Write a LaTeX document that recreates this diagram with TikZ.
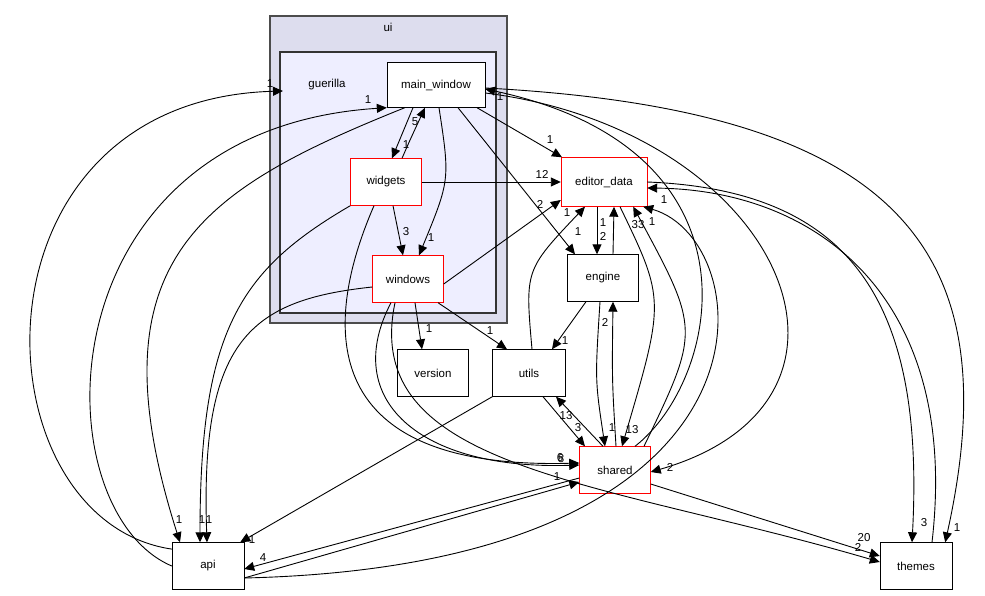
\documentclass[tikz,border=0pt]{standalone}
\usepackage{fontspec}
\setmainfont{Liberation Sans}
\usetikzlibrary{arrows.meta}

\tikzset{
  dir/.style={draw=black, fill=white, minimum width=#1, minimum height=47, inner sep=0pt, font=\fontsize{11.5}{13}\selectfont},
  reddir/.style={dir=#1, draw=red},
  dep/.style={-{Triangle[length=10pt,width=9pt]}, line width=0.9pt},
  lbl/.style={font=\fontsize{11.5}{13}\selectfont, inner sep=0pt}
}

\begin{document}
\begin{tikzpicture}[x=1pt, y=-1pt]
  \useasboundingbox (0,0) rectangle (985,596);

  % clusters
  \filldraw[fill={rgb,255:red,221;green,221;blue,238}, draw=black!70, line width=1.2pt] (270,16) rectangle (507,323);
  \node[lbl] (uilbl) at (388,27) {ui};
  \filldraw[fill={rgb,255:red,238;green,238;blue,255}, draw=black!80, line width=1.2pt] (280,52) rectangle (496,313);
  \node[lbl] (guerilla) at (327,85) {guerilla};
  \coordinate (g) at (283,91);

  % directories
  \node[dir=98, minimum height=45] (main_window) at (436,85) {main\_window};
  \node[reddir=71] (widgets) at (386,182) {widgets};
  \node[reddir=71] (windows) at (408,279) {windows};
  \node[reddir=86, minimum height=49] (editor_data) at (604,182) {editor\_data};
  \node[dir=71] (engine) at (603,278) {engine};
  \node[dir=71] (version) at (433,373) {version};
  \node[dir=73] (utils) at (529,373) {utils};
  \node[reddir=71] (shared) at (615,470) {shared};
  \node[dir=72] (api) at (208,566) {api};
  \node[dir=72] (themes) at (916,566) {themes};

  % dependencies from api
  \draw[dep] (api.155) .. controls (-25,520) and (-40,100) .. (g) node[lbl] at (270,84) {1};
  \draw[dep] (api.west) .. controls (40,510) and (40,130) .. (main_window.south west) node[lbl] at (368,100) {1};
  \draw[dep] ([yshift=-12]api.east) .. controls (800,565) and (760,240) .. ([xshift=-4]editor_data.south east) node[lbl] at (652,222) {1};
  \draw[dep] ([yshift=-12]api.east) -- ([yshift=-12]shared.west) node[lbl] at (557,477) {1};

  % main_window
  \draw[dep] ([xshift=18]main_window.south west) .. controls (200,190) and (90,260) .. ([xshift=-28]api.north) node[lbl] at (179,520) {1};
  \draw[dep] ([xshift=-23]main_window.south) -- ([xshift=6]widgets.north) node[lbl] at (406,145) {1};
  \draw[dep] ([xshift=16]widgets.north) .. controls (410,140) .. ([xshift=-11]main_window.south) node[lbl] at (415,122) {5};
  \draw[dep] ([xshift=3]main_window.south) .. controls (450,180) .. ([xshift=11]windows.north) node[lbl] at (431,238) {1};
  \draw[dep] ([xshift=41]main_window.south) -- ([xshift=-42]editor_data.north) node[lbl] at (550,140) {1};
  \draw[dep] ([xshift=22]main_window.south) -- ([xshift=-28]engine.north) node[lbl] at (578,232) {1};
  \draw[dep] ([yshift=-3]main_window.east) .. controls (900,110) and (1010,250) .. ([xshift=-7]themes.north east) node[lbl] at (957,528) {1};
  \draw[dep] ([yshift=-8]main_window.east) .. controls (780,130) and (900,400) .. ([yshift=-2]shared.east) node[lbl] at (670,467) {2};
  \draw[dep] ([xshift=20]shared.north) .. controls (720,380) and (770,150) .. ([yshift=-4]main_window.east) node[lbl] at (500,97) {1};

  % widgets
  \draw[dep] (widgets.east) -- (editor_data.west) node[lbl] at (542,174) {12};
  \draw[dep] ([xshift=7]widgets.south) -- ([xshift=-5]windows.north) node[lbl] at (406,232) {3};
  \draw[dep] (widgets.south west) .. controls (240,270) and (200,330) .. ([xshift=-8]api.north) node[lbl] at (202,520) {1};
  \draw[dep] ([xshift=-12]widgets.south) .. controls (320,330) and (320,470) .. ([yshift=7]shared.west) node[lbl] at (560,458) {6};

  % windows
  \draw[dep] ([yshift=-5]windows.east) -- ([yshift=-18]editor_data.west) node[lbl] at (540,204) {2};
  \draw[dep] ([yshift=-8]windows.west) .. controls (250,300) and (200,340) .. ([xshift=-1]api.north) node[lbl] at (209,520) {1};
  \draw[dep] ([xshift=7]windows.south) -- ([xshift=-11]version.north) node[lbl] at (429,329) {1};
  \draw[dep] ([xshift=30]windows.south) -- ([xshift=-22]utils.north) node[lbl] at (490,331) {1};
  \draw[dep] ([xshift=-17]windows.south) .. controls (340,400) and (420,470) .. ([yshift=5]shared.west) node[lbl] at (561,459) {8};
  \draw[dep] ([xshift=-13]windows.south) .. controls (360,470) and (600,480) .. ([yshift=4]themes.west) node[lbl] at (858,547) {2};

  % editor_data and engine
  \draw[dep] ([xshift=-7]editor_data.south) -- ([xshift=-6]engine.north) node[lbl] at (603,236) {2};
  \draw[dep] ([xshift=10]engine.north) -- ([xshift=10]editor_data.south) node[lbl] at (603,223) {1};
  \draw[dep] ([xshift=16]editor_data.south) .. controls (665,300) .. ([xshift=7]shared.north) node[lbl] at (632,430) {13};
  \draw[dep] ([xshift=29]shared.north) .. controls (700,330) .. ([xshift=-14]editor_data.south east) node[lbl] at (638,225) {33};
  \draw[dep] (editor_data.east) .. controls (850,190) and (925,300) .. ([xshift=-4]themes.north) node[lbl] at (924,523) {3};
  \draw[dep] ([xshift=16]themes.north) .. controls (960,300) and (820,190) .. ([yshift=-6]editor_data.east) node[lbl] at (664,200) {1};
  \draw[dep] ([xshift=-17]engine.south) -- ([xshift=23]utils.north) node[lbl] at (565,341) {1};
  \draw[dep] ([xshift=-3]engine.south) .. controls (595,380) .. ([xshift=-10]shared.north) node[lbl] at (612,428) {1};
  \draw[dep] ([xshift=1]shared.north) .. controls (612,380) .. ([xshift=10]engine.south) node[lbl] at (605,322) {2};

  % utils
  \draw[dep] ([xshift=3]utils.north) .. controls (525,270) .. ([xshift=-19]editor_data.south) node[lbl] at (567,213) {1};
  \draw[dep] (utils.south west) -- ([xshift=-4]api.north east) node[lbl] at (252,540) {1};
  \draw[dep] ([xshift=14]utils.south) -- ([xshift=-30]shared.north) node[lbl] at (578,428) {3};
  \draw[dep] ([xshift=-12]shared.north) -- ([xshift=27]utils.south) node[lbl] at (566,416) {13};

  % shared
  \draw[dep] ([yshift=-8]shared.west) -- ([yshift=-3]api.east) node[lbl] at (263,558) {4};
  \draw[dep] ([yshift=-14]shared.east) -- ([yshift=10]themes.west) node[lbl] at (864,538) {20};
\end{tikzpicture}
\end{document}
